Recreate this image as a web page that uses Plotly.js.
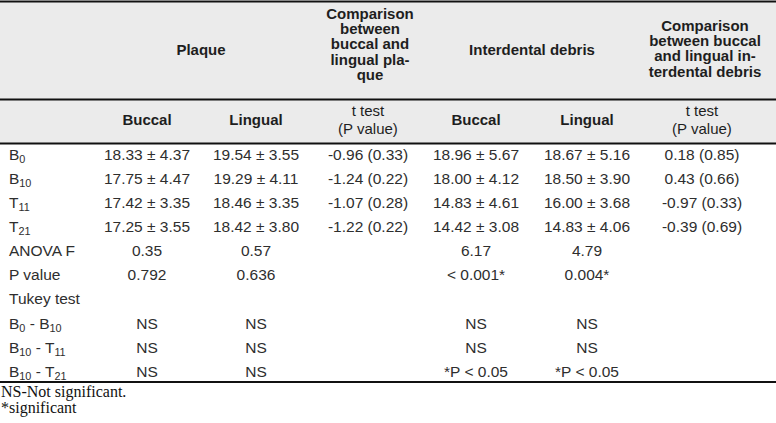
<!DOCTYPE html>
<html>
<head>
<meta charset="utf-8">
<script src="https://cdn.plot.ly/plotly-3.0.1.min.js"></script>
<style>html,body{margin:0;padding:0;background:#fff;}#chart{width:776px;height:423px;}</style>
</head>
<body>
<div id="chart"></div>
<script>
// ---------- DATA ----------
const rowLabels = ['B<sub>0</sub>','B<sub>10</sub>','T<sub>11</sub>','T<sub>21</sub>','ANOVA F','P value','Tukey test',
  'B<sub>0</sub> - B<sub>10</sub>','B<sub>10</sub> - T<sub>11</sub>','B<sub>10</sub> - T<sub>21</sub>'];
const plaqueBuccal  = ['18.33 ± 4.37','17.75 ± 4.47','17.42 ± 3.35','17.25 ± 3.55','0.35','0.792','','NS','NS','NS'];
const plaqueLingual = ['19.54 ± 3.55','19.29 ± 4.11','18.46 ± 3.35','18.42 ± 3.80','0.57','0.636','','NS','NS','NS'];
const plaqueTtest   = ['-0.96 (0.33)','-1.24 (0.22)','-1.07 (0.28)','-1.22 (0.22)','','','','','',''];
const debrisBuccal  = ['18.96 ± 5.67','18.00 ± 4.12','14.83 ± 4.61','14.42 ± 3.08','6.17','< 0.001*','','NS','NS','*P < 0.05'];
const debrisLingual = ['18.67 ± 5.16','18.50 ± 3.90','16.00 ± 3.68','14.83 ± 4.06','4.79','0.004*','','NS','NS','*P < 0.05'];
const debrisTtest   = ['0.18 (0.85)','0.43 (0.66)','-0.97 (0.33)','-0.39 (0.69)','','','','','',''];
const groupHeaders  = [['Plaque'], ['Comparison','between','buccal and','lingual pla-','que'],
                       ['Interdental debris'], ['Comparison','between buccal','and lingual in-','terdental debris']];
const subHeaders    = [['Buccal'],['Lingual'],['t test','(P value)'],['Buccal'],['Lingual'],['t test','(P value)']];
const footnotes     = ['NS-Not significant.','*significant'];

// ---------- LAYOUT CONFIG ----------
const W = 776, H = 423;
const colX = [147, 256, 368, 476, 587, 702];
const groupX = [201, 370, 532, 705];
const groupY = [51, 45.5, 51, 50];
const labelX = 9;
const firstRowY = 156, rowStep = 24.1;
const headLine = 15.3;
const subY = 121.5, subLine = 18;
const lines = [1.5, 99.5, 143.5, 382];
const footY = [393, 409];
const txtColor = '#2e2e2e';
const bodyFont = {family:'Liberation Sans, Arial, sans-serif', size:15.5, color:txtColor};
const headFont = {family:'Liberation Sans, Arial, sans-serif', size:15, color:'#1e1e1e', weight:'bold'};
const subRegFont = {family:'Liberation Sans, Arial, sans-serif', size:15, color:'#1e1e1e'};
const footFont = {family:'Liberation Serif, Times New Roman, serif', size:16, color:'#111'};

const traces = [];
function addText(xs, ys, texts, font, pos) {
  const keep = texts.map((t, i) => t !== '' ? i : -1).filter(i => i >= 0);
  traces.push({type:'scatter', mode:'text', x:keep.map(i=>xs[i]), y:keep.map(i=>ys[i]), text:keep.map(i=>texts[i]),
    textfont:font, textposition:pos || 'middle center', hoverinfo:'skip', showlegend:false, cliponaxis:false});
}
const rowY = rowLabels.map((_, i) => firstRowY + i*rowStep);

// body
addText(rowY.map(()=>labelX), rowY, rowLabels, bodyFont, 'middle right');
[plaqueBuccal, plaqueLingual, plaqueTtest, debrisBuccal, debrisLingual, debrisTtest].forEach((col, c) => {
  addText(col.map(()=>colX[c]), rowY, col, bodyFont);
});

// group headers
groupHeaders.forEach((ls, g) => {
  const ys = ls.map((_, k) => groupY[g] + (k - (ls.length-1)/2) * headLine);
  addText(ls.map(()=>groupX[g]), ys, ls.map(s=>'<b>'+s+'</b>'), headFont);
});
// sub headers
subHeaders.forEach((ls, c) => {
  const ys = ls.map((_, k) => subY + (k - (ls.length-1)/2) * subLine);
  const bold = ls.length === 1;
  addText(ls.map(()=>colX[c]), ys, ls.map(s => bold ? '<b>'+s+'</b>' : s), bold ? headFont : subRegFont);
});
// footnotes
addText([1, 1], footY, footnotes, footFont, 'middle right');

const shapes = [{type:'rect', xref:'x', yref:'y', x0:0, x1:W, y0:lines[0], y1:lines[2], fillcolor:'#ebebeb', line:{width:0}, layer:'below'}];
lines.forEach(y => shapes.push({type:'line', xref:'x', yref:'y', x0:0, x1:W, y0:y, y1:y, line:{color:'#111', width:2}}));

const layout = {
  width:W, height:H, margin:{l:0,r:0,t:0,b:0},
  paper_bgcolor:'#fff', plot_bgcolor:'#fff',
  xaxis:{range:[0,W], visible:false, fixedrange:true},
  yaxis:{range:[H,0], visible:false, fixedrange:true},
  shapes:shapes, showlegend:false
};
Plotly.newPlot('chart', traces, layout, {staticPlot:true, displayModeBar:false});
</script>
</body>
</html>
